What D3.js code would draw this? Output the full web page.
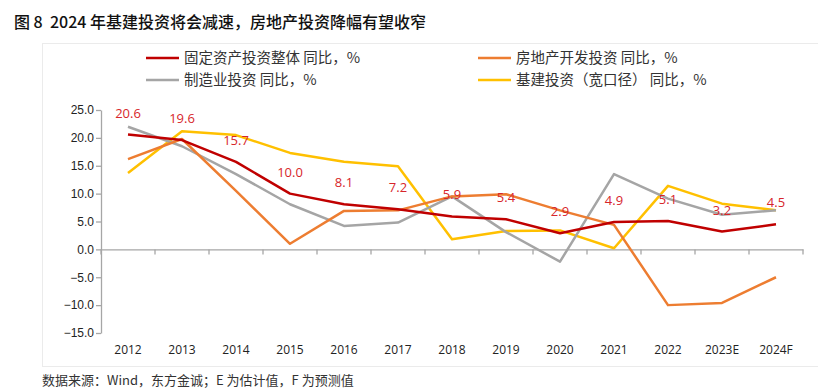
<!DOCTYPE html>
<html>
<head>
<meta charset="utf-8">
<script src="https://cdn.jsdelivr.net/npm/d3@7"></script>
<style>
  body { margin: 0; background: #fff; }
  svg { display: block; font-family: "Open Sans", "Noto Sans CJK SC", sans-serif; }
</style>
</head>
<body>
<svg id="chart"></svg>
<script>
// categories and series
var years = ["2012","2013","2014","2015","2016","2017","2018","2019","2020","2021","2022","2023E","2024F"];
var fixedAsset = [20.6, 19.6, 15.7, 10.0, 8.1, 7.2, 5.9, 5.4, 2.9, 4.9, 5.1, 3.2, 4.5];
var realEstate = [16.2, 19.8, 10.5, 1.0, 6.9, 7.0, 9.5, 9.9, 7.0, 4.4, -10.0, -9.6, -5.0];
var manufacturing = [22.0, 18.5, 13.5, 8.1, 4.2, 4.8, 9.5, 3.1, -2.2, 13.5, 9.1, 6.2, 7.0];
var infrastructure = [13.7, 21.2, 20.5, 17.3, 15.7, 14.9, 1.8, 3.3, 3.4, 0.2, 11.4, 8.2, 7.0];
var yTicks = [25, 20, 15, 10, 5, 0, -5, -10, -15];

var series = [
  {name: "固定资产投资整体 同比，%", values: fixedAsset, color: "#c00000"},
  {name: "房地产开发投资 同比，%", values: realEstate, color: "#ed7d31"},
  {name: "制造业投资 同比，%", values: manufacturing, color: "#a5a5a5"},
  {name: "基建投资（宽口径） 同比，%", values: infrastructure, color: "#ffc000"}
];

function draw() {
    var width = 818,
        height = 391;
    var left = 101, right = 803, top = 110, bottom = 333;

    var svg = d3.select("#chart")
        .attr("width", width)
        .attr("height", height);

    var x = d3.scaleBand().domain(years).range([left, right]);
    var y = d3.scaleLinear().domain([-15, 25]).range([bottom, top]);

    // title
    svg.append("text")
        .attr("x", 14).attr("y", 28)
        .attr("font-size", 16).attr("font-weight", 500)
        .attr("fill", "#111")
        .attr("font-family", "'Noto Sans CJK SC', sans-serif")
        .style("white-space", "pre")
        .text("图 8  2024 年基建投资将会减速，房地产投资降幅有望收窄");

    // chart frame
    svg.append("rect")
        .attr("x", 42.5).attr("y", 43.5)
        .attr("width", 790).attr("height", 323)
        .attr("fill", "none").attr("stroke", "#ebebeb");

    // legend
    var legend = svg.append("g").selectAll("g")
        .data(series)
        .enter().append("g")
        .attr("transform", function(d, i) {
            return "translate(" + (i % 2 ? 478 : 146) + "," + (i < 2 ? 58 : 80) + ")";
        });
    legend.append("line")
        .attr("x1", 0).attr("x2", 33)
        .attr("stroke", function(d) { return d.color; })
        .attr("stroke-width", 2.5);
    legend.append("text")
        .attr("x", 38).attr("dy", "0.35em")
        .attr("font-size", 14.5).attr("fill", "#333")
        .attr("font-family", "'Noto Sans CJK SC', sans-serif")
        .text(function(d) { return d.name; });

    // y axis
    var yAxis = svg.append("g")
        .attr("transform", "translate(" + left + ",0)")
        .call(d3.axisLeft(y).tickValues(yTicks).tickFormat(d3.format(".1f")).tickSize(5).tickSizeOuter(0));
    yAxis.selectAll("text").attr("font-size", 12).attr("fill", "#222").attr("x", -7);

    // x axis at zero
    var xAxis = svg.append("g")
        .attr("transform", "translate(0," + y(0) + ")")
        .call(d3.axisBottom(x).tickSize(0).tickSizeOuter(0).tickFormat(""));
    xAxis.selectAll(".tick").remove();
    xAxis.selectAll("line.cat")
        .data(d3.range(years.length + 1))
        .enter().append("line")
        .attr("class", "cat")
        .attr("x1", function(i) { return left + i * x.step(); })
        .attr("x2", function(i) { return left + i * x.step(); })
        .attr("y1", 0).attr("y2", 5);
    svg.selectAll(".domain, line.cat").attr("stroke", "#a6a6a6").attr("stroke-width", 1.3);
    yAxis.selectAll(".tick line").attr("stroke", "#a6a6a6").attr("stroke-width", 1.3);

    // year labels along the bottom
    svg.append("g").selectAll("text")
        .data(years)
        .enter().append("text")
        .attr("x", function(d) { return x(d) + x.bandwidth() / 2; })
        .attr("y", 354)
        .attr("text-anchor", "middle")
        .attr("font-size", 12).attr("fill", "#222")
        .text(function(d) { return d; });

    var line = d3.line()
        .x(function(d, i) { return x(years[i]) + x.bandwidth() / 2; })
        .y(function(d) { return y(d); });

    // draw back to front so red sits on top
    svg.append("g").selectAll("path")
        .data([series[3], series[2], series[1], series[0]])
        .enter().append("path")
        .attr("d", function(d) { return line(d.values); })
        .attr("fill", "none")
        .attr("stroke", function(d) { return d.color; })
        .attr("stroke-width", 2.5)
        .attr("stroke-linejoin", "round");

    // data labels for overall fixed asset investment
    svg.append("g").selectAll("text")
        .data(fixedAsset)
        .enter().append("text")
        .attr("x", function(d, i) { return x(years[i]) + x.bandwidth() / 2; })
        .attr("y", function(d) { return y(d) - 17; })
        .attr("text-anchor", "middle")
        .attr("font-size", 13).attr("fill", "#d7262b")
        .text(function(d) { return d.toFixed(1); });

    // source note
    svg.append("text")
        .attr("x", 42).attr("y", 385)
        .attr("font-size", 13).attr("fill", "#333")
        .attr("font-family", "'Noto Sans CJK SC', sans-serif")
        .text("数据来源：Wind，东方金诚；E 为估计值，F 为预测值");
}

draw();
</script>
</body>
</html>
